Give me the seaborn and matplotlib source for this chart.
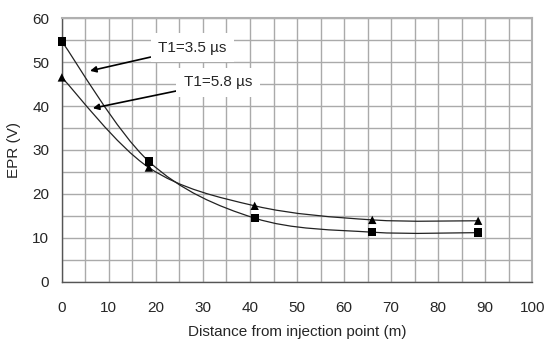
import numpy as np
import pandas as pd
import matplotlib
matplotlib.use("Agg")
import matplotlib.pyplot as plt
from matplotlib.path import Path
from matplotlib.patches import PathPatch
import seaborn as sns

# values
distance = [0, 18.5, 41, 66, 88.5]
epr_35 = [54.7, 27.4, 14.5, 11.3, 11.2]   # T1=3.5 us (squares)
epr_58 = [46.5, 26.0, 17.3, 14.1, 13.9]   # T1=5.8 us (triangles)
labels = ["T1=3.5 \u00b5s", "T1=5.8 \u00b5s"]

df = pd.DataFrame({
    "dist": distance * 2,
    "epr": epr_35 + epr_58,
    "series": [labels[0]] * 5 + [labels[1]] * 5,
})

sns.set_style("white")
plt.rcParams["font.family"] = ["Liberation Sans", "DejaVu Sans"]


def smooth_path(xs, ys):
    # Excel-style smoothed line (cubic bezier between the data points)
    p = np.column_stack([xs, ys]).astype(float)
    n = len(p)
    verts = [p[0]]
    codes = [Path.MOVETO]
    for i in range(n - 1):
        p0 = p[i - 1] if i > 0 else p[i]
        p3 = p[i + 2] if i + 2 < n else p[i + 1]
        c1 = p[i] + (p[i + 1] - p0) / 6
        c2 = p[i + 1] - (p3 - p[i]) / 6
        verts += [c1, c2, p[i + 1]]
        codes += [Path.CURVE4] * 3
    return Path(verts, codes)


fig, ax = plt.subplots(figsize=(5.47, 3.48), dpi=100)
fig.subplots_adjust(left=0.113, right=0.973, top=0.948, bottom=0.19)

for ys in (epr_35, epr_58):
    ax.add_patch(PathPatch(smooth_path(distance, ys), fill=False,
                           edgecolor="#222222", lw=0.9, zorder=3))

sns.scatterplot(data=df, x="dist", y="epr", style="series",
                markers={labels[0]: "s", labels[1]: "^"},
                color="black", s=36, edgecolor="black", linewidth=0,
                legend=False, ax=ax, zorder=4, clip_on=False)

ax.set_xlim(0, 100)
ax.set_ylim(0, 60)
ax.set_xticks(np.arange(0, 101, 10))
ax.set_yticks(np.arange(0, 61, 10))
ax.set_xticks(np.arange(0, 101, 5), minor=True)
ax.set_yticks(np.arange(0, 61, 5), minor=True)
ax.grid(which="both", color="#aaaaaa", lw=1.0)
ax.set_axisbelow(True)
ax.tick_params(axis="x", which="major", direction="out", length=5,
               width=1, color="#555555", pad=9, labelsize=11)
ax.tick_params(axis="y", which="major", direction="out", length=4,
               width=1, color="#555555", pad=5, labelsize=11)
ax.tick_params(which="minor", length=0)

for side in ("left", "bottom"):
    ax.spines[side].set_color("#555555")
    ax.spines[side].set_linewidth(1.0)
for side in ("top", "right"):
    ax.spines[side].set_color("#b0b0b0")
    ax.spines[side].set_linewidth(1.5)

ax.set_xlabel("Distance from injection point (m)", fontsize=11, labelpad=7)
ax.set_ylabel("EPR (V)", fontsize=11, labelpad=8)

box = dict(boxstyle="square,pad=0.5", fc="white", ec="none")
ax.annotate(labels[0], xy=(6.0, 48.0), xytext=(20.5, 53.3),
            fontsize=11, va="center", ha="left", bbox=box,
            arrowprops=dict(arrowstyle="-|>", color="black", lw=1.2,
                            mutation_scale=9, shrinkA=0, shrinkB=0))
ax.annotate(labels[1], xy=(6.6, 39.5), xytext=(26.0, 45.4),
            fontsize=11, va="center", ha="left", bbox=box,
            arrowprops=dict(arrowstyle="-|>", color="black", lw=1.2,
                            mutation_scale=9, shrinkA=0, shrinkB=0))

fig.savefig("out.png", dpi=100)
